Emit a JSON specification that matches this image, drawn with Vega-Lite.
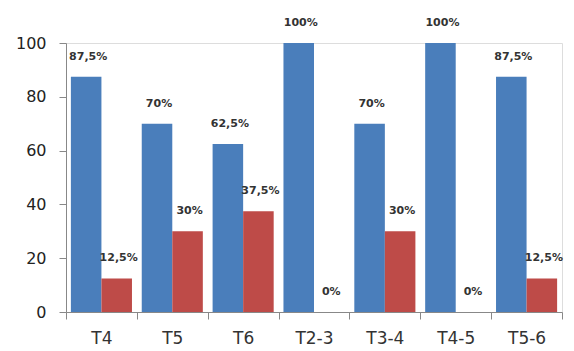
{
  "$schema": "https://vega.github.io/schema/vega-lite/v6.json",
  "width": 496,
  "height": 269,
  "autosize": {"type": "none"},
  "padding": {"left": 66, "top": 43, "right": 12, "bottom": 39},
  "background": "white",
  "data": {
    "values": [
      {"group": "T4", "series": "A", "value": 87.5},
      {"group": "T4", "series": "B", "value": 12.5},
      {"group": "T5", "series": "A", "value": 70},
      {"group": "T5", "series": "B", "value": 30},
      {"group": "T6", "series": "A", "value": 62.5},
      {"group": "T6", "series": "B", "value": 37.5},
      {"group": "T2-3", "series": "A", "value": 100},
      {"group": "T2-3", "series": "B", "value": 0},
      {"group": "T3-4", "series": "A", "value": 70},
      {"group": "T3-4", "series": "B", "value": 30},
      {"group": "T4-5", "series": "A", "value": 100},
      {"group": "T4-5", "series": "B", "value": 0},
      {"group": "T5-6", "series": "A", "value": 87.5},
      {"group": "T5-6", "series": "B", "value": 12.5}
    ]
  },
  "transform": [
    {"calculate": "replace(datum.value + '', '.', ',') + '%'", "as": "label"}
  ],
  "encoding": {
    "x": {
      "field": "group",
      "type": "nominal",
      "sort": null,
      "scale": {"paddingInner": 0, "paddingOuter": 0},
      "axis": {
        "title": null,
        "labelAngle": 0,
        "tickBand": "extent",
        "domainColor": "#888888",
        "tickColor": "#888888",
        "tickSize": 7,
        "labelPadding": 11,
        "labelFont": "DejaVu Sans",
        "labelFontSize": 17,
        "labelColor": "#333333"
      }
    },
    "xOffset": {
      "field": "series",
      "type": "nominal",
      "scale": {"paddingInner": 0, "paddingOuter": 0.16}
    }
  },
  "layer": [
    {
      "mark": {"type": "bar"},
      "encoding": {
        "y": {
          "field": "value",
          "type": "quantitative",
          "scale": {"domain": [0, 100], "nice": false},
          "axis": {
            "title": null,
            "values": [0, 20, 40, 60, 80, 100],
            "grid": false,
            "domainColor": "#888888",
            "tickColor": "#888888",
            "tickSize": 7,
            "labelPadding": 13,
            "labelFont": "DejaVu Sans",
            "labelFontSize": 16,
            "labelColor": "#222222"
          }
        },
        "color": {
          "field": "series",
          "type": "nominal",
          "scale": {"domain": ["A", "B"], "range": ["#4A7EBB", "#BE4B48"]},
          "legend": null
        }
      }
    },
    {
      "mark": {
        "type": "text",
        "baseline": "middle",
        "dy": -20,
        "dx": 2,
        "font": "DejaVu Sans",
        "fontSize": 11,
        "fontWeight": "bold",
        "color": "#333333"
      },
      "encoding": {
        "y": {"field": "value", "type": "quantitative"},
        "text": {"field": "label"}
      }
    }
  ]
}
